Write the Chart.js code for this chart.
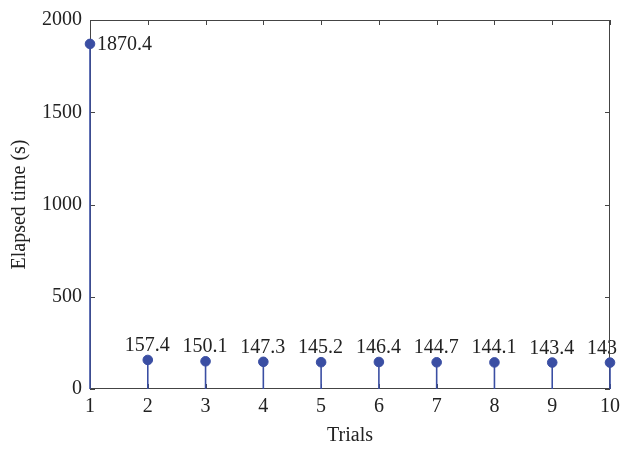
<!DOCTYPE html>
<html>
<head>
<meta charset="utf-8">
<script src="https://cdn.jsdelivr.net/npm/chart.js@4.4.0/dist/chart.umd.min.js"></script>
<style>
  html, body { margin: 0; padding: 0; background: #fff; }
  #wrap { width: 621px; height: 450px; }
</style>
</head>
<body>
<div id="wrap"><canvas id="stemChart" width="621" height="450"></canvas></div>
<script>
const trials = [1, 2, 3, 4, 5, 6, 7, 8, 9, 10];
const elapsed = [1870.4, 157.4, 150.1, 147.3, 145.2, 146.4, 144.7, 144.1, 143.4, 143];
const valueLabels = ['1870.4', '157.4', '150.1', '147.3', '145.2', '146.4', '144.7', '144.1', '143.4', '143'];

const BLUE = '#3a4ea3';
const INK = '#222';
const AXIS = '#444';
const FONT = '"Liberation Serif", "Times New Roman", serif';

// box with inward ticks, stems, then value labels on top
const stemPlot = {
  id: 'stemPlot',
  beforeDatasetsDraw(chart) {
    const ctx = chart.ctx, a = chart.chartArea, x = chart.scales.x, y = chart.scales.y;
    ctx.save();
    ctx.strokeStyle = AXIS;
    ctx.lineWidth = 1;
    ctx.strokeRect(a.left + 0.5, a.top + 0.5, a.right - a.left - 1, a.bottom - a.top - 1);
    const len = 5;
    ctx.beginPath();
    x.ticks.forEach(tk => {
      const px = Math.round(x.getPixelForValue(tk.value)) + 0.5;
      ctx.moveTo(px, a.bottom); ctx.lineTo(px, a.bottom - len);
      ctx.moveTo(px, a.top); ctx.lineTo(px, a.top + len);
    });
    y.ticks.forEach(tk => {
      const py = Math.round(y.getPixelForValue(tk.value)) + 0.5;
      ctx.moveTo(a.left, py); ctx.lineTo(a.left + len, py);
      ctx.moveTo(a.right, py); ctx.lineTo(a.right - len, py);
    });
    ctx.stroke();

    ctx.strokeStyle = BLUE;
    ctx.lineWidth = 1.6;
    trials.forEach((t, i) => {
      const px = x.getPixelForValue(t);
      ctx.beginPath();
      ctx.moveTo(px, y.getPixelForValue(0));
      ctx.lineTo(px, y.getPixelForValue(elapsed[i]));
      ctx.stroke();
    });
    ctx.restore();
  },
  afterDraw(chart) {
    const ctx = chart.ctx, a = chart.chartArea, x = chart.scales.x, y = chart.scales.y;
    ctx.save();
    ctx.fillStyle = INK;
    ctx.font = '20px ' + FONT;
    trials.forEach((t, i) => {
      const px = x.getPixelForValue(t), py = y.getPixelForValue(elapsed[i]);
      ctx.textAlign = 'left';
      if (i === 0) {
        ctx.textBaseline = 'middle';
        ctx.fillText(valueLabels[i], px + 7, py + 1);
      } else {
        ctx.textBaseline = 'alphabetic';
        ctx.fillText(valueLabels[i], px - 23, py - 9);
      }
    });
    // right frame line sits over the last label, upper part only
    ctx.strokeStyle = AXIS;
    ctx.lineWidth = 1;
    ctx.beginPath();
    ctx.moveTo(a.right - 0.5, a.top);
    ctx.lineTo(a.right - 0.5, y.getPixelForValue(elapsed[9]) - 6);
    ctx.stroke();
    ctx.restore();
  }
};

new Chart(document.getElementById('stemChart'), {
  type: 'scatter',
  data: {
    datasets: [{
      label: 'Elapsed time',
      data: trials.map((t, i) => ({ x: t, y: elapsed[i] })),
      backgroundColor: BLUE,
      borderColor: BLUE,
      pointRadius: 4.8,
      pointHoverRadius: 4.8,
      showLine: false,
      clip: false
    }]
  },
  options: {
    responsive: false,
    animation: false,
    layout: { padding: { left: 0, right: 11, top: 20, bottom: 0 } },
    plugins: { legend: { display: false }, tooltip: { enabled: false } },
    scales: {
      x: {
        type: 'linear', min: 1, max: 10,
        afterFit: s => { s.height = 61; s.paddingRight = 0; s.paddingLeft = 0; },
        ticks: { stepSize: 1, color: INK, padding: 6, font: { family: FONT, size: 20 } },
        grid: { display: false, drawTicks: false },
        border: { display: false },
        title: { display: true, text: 'Trials', color: INK, padding: { top: 0, bottom: 2 }, font: { family: FONT, size: 20 } }
      },
      y: {
        min: 0, max: 2000,
        afterFit: s => { s.width = 90; s.paddingTop = 0; },
        ticks: { stepSize: 500, color: INK, padding: 8, callback: v => String(v), font: { family: FONT, size: 20 } },
        grid: { display: false, drawTicks: false },
        border: { display: false },
        title: { display: true, text: 'Elapsed time (s)', color: INK, padding: { top: 8, bottom: 0 }, font: { family: FONT, size: 20 } }
      }
    }
  },
  plugins: [stemPlot]
});
</script>
</body>
</html>
